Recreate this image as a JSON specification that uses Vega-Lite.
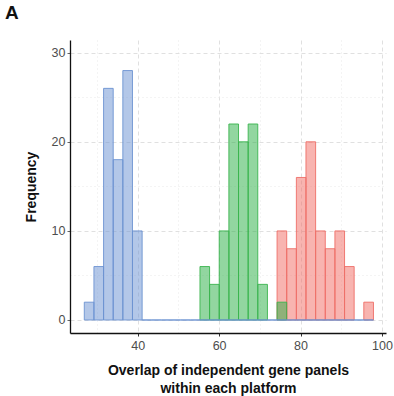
{
  "$schema": "https://vega.github.io/schema/vega-lite/v6.json",
  "autosize": "none",
  "width": 316,
  "height": 293,
  "padding": {"left": 70, "top": 40, "right": 8, "bottom": 63},
  "background": "white",
  "title": {"text": "A", "anchor": "start", "frame": "group", "dx": -65, "offset": 17, "font": "Liberation Sans", "fontSize": 19, "fontWeight": "bold", "color": "#111111"},
  "config": {
    "view": {"stroke": null},
    "axis": {"labelFont": "Liberation Sans", "titleFont": "Liberation Sans", "labelColor": "#4d4d4d", "labelFontSize": 12.5, "titleFontSize": 14, "titleFontWeight": "bold", "titleColor": "#111111", "domainColor": "#111111", "domainWidth": 1.3, "tickSize": 3, "gridColor": "#e3e3e3", "labelOverlap": false}
  },
  "data": {"values": [
    {"group": "high", "start": 74.24, "end": 76.61, "count": 10},
    {"group": "high", "start": 76.61, "end": 78.98, "count": 8},
    {"group": "high", "start": 78.98, "end": 81.34, "count": 16},
    {"group": "high", "start": 81.34, "end": 83.71, "count": 20},
    {"group": "high", "start": 83.71, "end": 86.08, "count": 10},
    {"group": "high", "start": 86.08, "end": 88.45, "count": 8},
    {"group": "high", "start": 88.45, "end": 90.82, "count": 10},
    {"group": "high", "start": 90.82, "end": 93.18, "count": 6},
    {"group": "high", "start": 95.55, "end": 97.92, "count": 2},
    {"group": "mid", "start": 55.30, "end": 57.66, "count": 6},
    {"group": "mid", "start": 57.66, "end": 60.03, "count": 4},
    {"group": "mid", "start": 60.03, "end": 62.40, "count": 10},
    {"group": "mid", "start": 62.40, "end": 64.77, "count": 22},
    {"group": "mid", "start": 64.77, "end": 67.14, "count": 20},
    {"group": "mid", "start": 67.14, "end": 69.50, "count": 22},
    {"group": "mid", "start": 69.50, "end": 71.87, "count": 4},
    {"group": "mid", "start": 74.24, "end": 76.61, "count": 2},
    {"group": "low", "start": 26.88, "end": 29.25, "count": 2},
    {"group": "low", "start": 29.25, "end": 31.62, "count": 6},
    {"group": "low", "start": 31.62, "end": 33.98, "count": 26},
    {"group": "low", "start": 33.98, "end": 36.35, "count": 18},
    {"group": "low", "start": 36.35, "end": 38.72, "count": 28},
    {"group": "low", "start": 38.72, "end": 41.09, "count": 10},
    {"group": "low", "start": 41.09, "end": 43.46, "count": 0},
    {"group": "low", "start": 43.46, "end": 45.82, "count": 0},
    {"group": "low", "start": 45.82, "end": 48.19, "count": 0},
    {"group": "low", "start": 48.19, "end": 50.56, "count": 0},
    {"group": "low", "start": 50.56, "end": 52.93, "count": 0},
    {"group": "low", "start": 52.93, "end": 55.30, "count": 0},
    {"group": "low", "start": 55.30, "end": 57.66, "count": 0},
    {"group": "low", "start": 57.66, "end": 60.03, "count": 0},
    {"group": "low", "start": 60.03, "end": 62.40, "count": 0},
    {"group": "low", "start": 62.40, "end": 64.77, "count": 0},
    {"group": "low", "start": 64.77, "end": 67.14, "count": 0},
    {"group": "low", "start": 67.14, "end": 69.50, "count": 0},
    {"group": "low", "start": 69.50, "end": 71.87, "count": 0},
    {"group": "low", "start": 71.87, "end": 74.24, "count": 0},
    {"group": "low", "start": 74.24, "end": 76.61, "count": 0},
    {"group": "low", "start": 76.61, "end": 78.98, "count": 0},
    {"group": "low", "start": 78.98, "end": 81.34, "count": 0},
    {"group": "low", "start": 81.34, "end": 83.71, "count": 0},
    {"group": "low", "start": 83.71, "end": 86.08, "count": 0},
    {"group": "low", "start": 86.08, "end": 88.45, "count": 0},
    {"group": "low", "start": 88.45, "end": 90.82, "count": 0},
    {"group": "low", "start": 90.82, "end": 93.18, "count": 0},
    {"group": "low", "start": 93.18, "end": 95.55, "count": 0},
    {"group": "low", "start": 95.55, "end": 97.92, "count": 0}
  ]},
  "mark": {"type": "bar", "fillOpacity": 0.5, "strokeWidth": 1, "strokeOpacity": 0.9},
  "encoding": {
    "x": {"field": "start", "type": "quantitative",
      "scale": {"domain": [23.37, 101.0], "nice": false, "zero": false},
      "axis": {"title": ["Overlap of independent gene panels", "within each platform"], "values": [30, 40, 50, 60, 70, 80, 90, 100],
        "labelOverlap": false,
        "labelExpr": "datum.value % 20 === 0 ? datum.label : ''",
        "tickOpacity": {"condition": {"test": "datum.value % 20 === 0", "value": 1}, "value": 0},
        "tickColor": "#333333",
        "gridDash": {"condition": {"test": "datum.value % 20 === 0", "value": [4, 3]}, "value": [1, 3]},
        "gridColor": {"condition": {"test": "datum.value % 20 === 0", "value": "#e0e0e0"}, "value": "#e8e8e8"},
        "labelPadding": 3, "titlePadding": 12, "titleLineHeight": 18}},
    "x2": {"field": "end"},
    "y": {"field": "count", "type": "quantitative", "stack": null,
      "scale": {"domain": [-1.46, 31.43], "nice": false, "zero": false},
      "axis": {"title": "Frequency", "values": [0, 5, 10, 15, 20, 25, 30],
        "labelOverlap": false,
        "labelExpr": "datum.value % 10 === 0 ? datum.label : ''",
        "tickOpacity": {"condition": {"test": "datum.value % 10 === 0", "value": 1}, "value": 0},
        "tickColor": "#666666",
        "gridDash": {"condition": {"test": "datum.value % 10 === 0", "value": [4, 3]}, "value": [1, 3]},
        "gridColor": {"condition": {"test": "datum.value % 10 === 0", "value": "#e0e0e0"}, "value": "#e8e8e8"},
        "labelPadding": 2, "titlePadding": 13}},
    "y2": {"datum": 0},
    "fill": {"field": "group", "type": "nominal", "legend": null,
      "scale": {"domain": ["low", "mid", "high"], "range": ["#678fd1", "#26ad41", "#f16961"]}},
    "stroke": {"field": "group", "type": "nominal", "legend": null,
      "scale": {"domain": ["low", "mid", "high"], "range": ["#6d93d2", "#3bb54f", "#ee6f68"]}}
  }
}
